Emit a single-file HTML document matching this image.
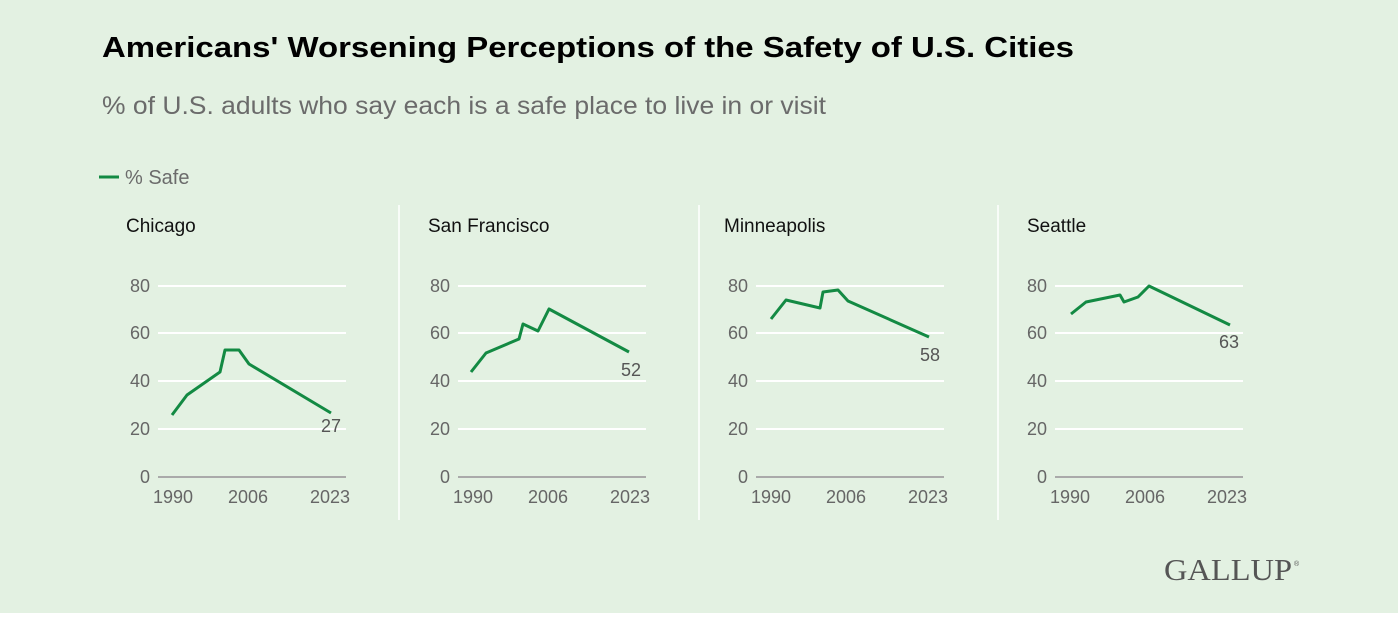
<!DOCTYPE html>
<html><head><style>
body{margin:0;width:1400px;height:617px;background:#fff;overflow:hidden}
</style></head><body>
<svg width="1400" height="617" xmlns="http://www.w3.org/2000/svg" font-family="Liberation Sans, sans-serif">
<rect x="0" y="0" width="1398" height="613" fill="#e3f1e2"/>
<text x="102" y="57" font-size="29" font-weight="bold" fill="#000" textLength="972" lengthAdjust="spacingAndGlyphs">Americans' Worsening Perceptions of the Safety of U.S. Cities</text>
<text x="102" y="114" font-size="25" fill="#6b6b6b" textLength="724" lengthAdjust="spacingAndGlyphs">% of U.S. adults who say each is a safe place to live in or visit</text>
<line x1="99" y1="177" x2="119" y2="177" stroke="#138a43" stroke-width="3"/>
<text x="125" y="184" font-size="20" fill="#6b6b6b">% Safe</text>
<g stroke="#fff" stroke-width="1.5">
<line x1="399" y1="205" x2="399" y2="520"/><line x1="699" y1="205" x2="699" y2="520"/><line x1="998" y1="205" x2="998" y2="520"/>
</g>
<defs>
<g id="ax">
<g stroke="#fff" stroke-width="2"><line x1="158" y1="286" x2="346" y2="286"/><line x1="158" y1="333" x2="346" y2="333"/><line x1="158" y1="381" x2="346" y2="381"/><line x1="158" y1="429" x2="346" y2="429"/></g>
<line x1="158" y1="477" x2="346" y2="477" stroke="#aaa" stroke-width="2"/>
<g font-size="18" fill="#666" text-anchor="end"><text x="150" y="292">80</text><text x="150" y="339">60</text><text x="150" y="387">40</text><text x="150" y="435">20</text><text x="150" y="483">0</text></g>
<g font-size="18" fill="#666" text-anchor="middle"><text x="173" y="503">1990</text><text x="248" y="503">2006</text><text x="330" y="503">2023</text></g>
</g>
</defs>
<use href="#ax"/><use href="#ax" x="300"/><use href="#ax" x="598"/><use href="#ax" x="897"/>
<g font-size="19" fill="#111"><text x="126" y="232">Chicago</text><text x="428" y="232">San Francisco</text><text x="724" y="232">Minneapolis</text><text x="1027" y="232">Seattle</text></g>
<g fill="none" stroke="#138a43" stroke-width="3" stroke-linejoin="round">
<polyline points="172,415 187,395 220,372 225,350 239,350 249,364 331,413"/>
<polyline points="471,372 486,353 519,339 523,324 538,331 549,309 629,352"/>
<polyline points="771,319 786,300 820,308 823,292 838,290 848,301 929,337"/>
<polyline points="1071,314 1086,302 1120,295 1124,302 1138,297 1149,286 1230,325"/>
</g>
<g font-size="18" fill="#555" text-anchor="middle"><text x="331" y="432">27</text><text x="631" y="376">52</text><text x="930" y="361">58</text><text x="1229" y="348">63</text></g>
<text x="1164" y="580" font-family="Liberation Serif, serif" font-size="31" fill="#555" textLength="128" lengthAdjust="spacingAndGlyphs">GALLUP</text>
<text x="1294" y="566" font-size="7" fill="#555">®</text>
</svg>
</body></html>
